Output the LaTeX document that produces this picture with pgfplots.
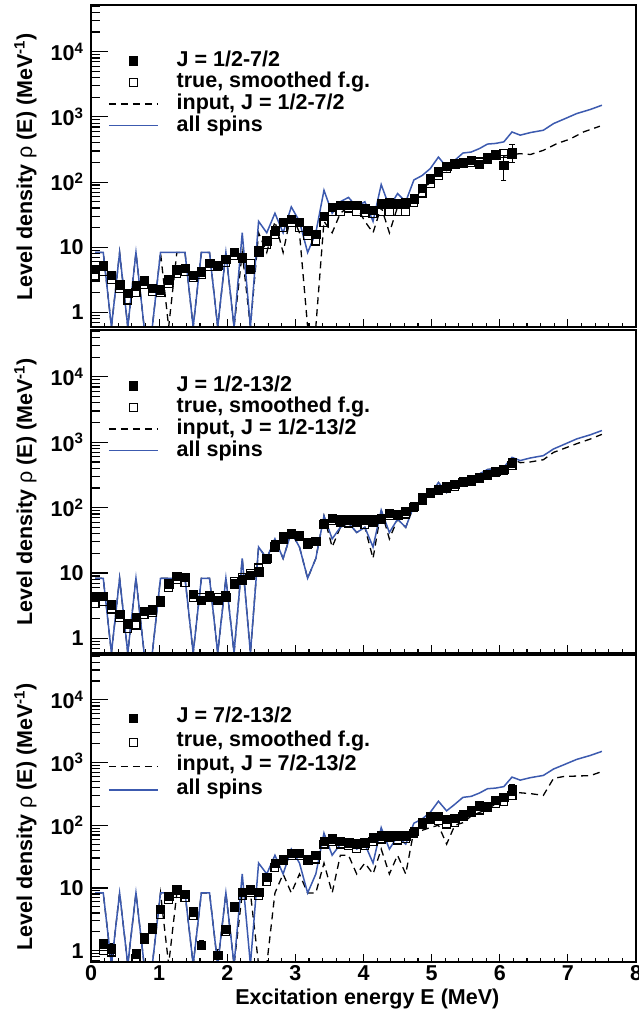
\documentclass[border=0pt]{standalone}
\usepackage{fontspec}
\setmainfont{Liberation Sans}
\usepackage{pgfplots}
\usepackage{pgfplotstable}
\pgfplotsset{compat=1.18}
\definecolor{rootblue}{RGB}{60,90,175}
\newcommand\lab{\fontsize{21.5bp}{25bp}\selectfont\bfseries}

\pgfplotstableread{
E b
0.06 8.33
0.18 8.33
0.30 0.6
0.42 8.33
0.54 0.6
0.66 8.33
0.78 0.6
0.90 0.6
1.02 8.33
1.14 8.33
1.26 8.33
1.38 8.33
1.50 0.6
1.62 8.33
1.74 8.33
1.86 0.6
1.98 8.33
2.10 0.6
2.22 16.7
2.34 0.6
2.46 25
2.58 16.7
2.70 33.3
2.82 16.7
2.94 41.7
3.06 25
3.18 8.33
3.30 16.7
3.42 75
3.54 33.3
3.66 50
3.78 58.3
3.90 41.7
4.02 50
4.14 25
4.26 91.7
4.38 41.7
4.50 66.7
4.62 50
4.74 108
4.86 126
4.98 161
5.10 242
5.22 170
5.34 216
5.46 279
5.58 289
5.70 326
5.82 383
5.94 392
6.06 414
6.18 587
6.30 525
6.45 575
6.64 624
6.79 790
6.94 922
7.13 1125
7.33 1300
7.50 1510
}\blue

\pgfplotstableread{
E f ef o d
0.06 4.65 0.5 3.6 8.33
0.18 5.2 0.5 4.2 8.33
0.30 3.76 0.4 3.2 0.6
0.42 2.67 0.3 2.3 8.33
0.54 1.99 0.2 1.55 0.6
0.66 2.58 0.3 2.0 8.33
0.78 3.08 0.3 2.7 0.6
0.90 2.35 0.2 2.1 0.6
1.02 2.24 0.2 2.0 8.33
1.14 3.19 0.3 2.8 0.6
1.26 4.54 0.4 4.0 8.33
1.38 4.82 0.4 4.2 8.33
1.50 3.76 0.4 3.4 0.6
1.62 4.23 0.4 3.8 8.33
1.74 5.74 0.5 5.0 8.33
1.86 5.35 0.5 5.0 0.6
1.98 6.62 0.6 5.9 8.33
2.10 8.39 0.8 7.5 0.6
2.22 6.78 0.6 7.0 8.33
2.34 4.65 0.5 5.6 0.6
2.46 8.6 0.8 8.8 16.7
2.58 12.7 1.2 11 8.33
2.70 18.1 1.6 15.5 25
2.82 24.5 2 20 8.33
2.94 27 2.5 24 33.3
3.06 24.5 2.5 20 16.7
3.18 18 2 15 0.6
3.30 16 2 12.5 0.6
3.42 30 3 24 25
3.54 41 4 35 16.7
3.66 44 4 35 33.3
3.78 44 4 40 41.7
3.90 44 4 35 41.7
4.02 39 4 34 25
4.14 37 4 33 16.7
4.26 47 5 35 41.7
4.38 49 5 35 16.7
4.50 47 5 35 41.7
4.62 49 6 35 41.7
4.74 56 7 48 58.3
4.86 80 8 68 75
4.98 112 12 95 100
5.10 145 15 125 133
5.22 174 18 160 150
5.34 192 20 185 175
5.46 203 22 195 185
5.58 215 25 200 200
5.70 187 25 205 210
5.82 230 30 235 220
5.94 258 35 265 240
6.06 180 75 275 250
6.18 290 90 270 265
6.30 nan nan nan 273
6.45 nan nan nan 265
6.64 nan nan nan 307
6.84 nan nan nan 390
7.03 nan nan nan 456
7.23 nan nan nan 588
7.47 nan nan nan 720
}\pA

\pgfplotstableread{
E f ef o d
0.06 4.3 0.5 3.4 8.33
0.18 4.4 0.5 3.7 8.33
0.30 3.3 0.4 2.8 0.6
0.42 2.35 0.3 2.1 8.33
0.54 1.68 0.2 1.4 0.6
0.66 2.13 0.2 1.6 8.33
0.78 2.63 0.3 2.3 0.6
0.90 2.76 0.3 2.5 0.6
1.02 3.85 0.4 3.6 8.33
1.14 6.9 0.6 6.0 8.33
1.26 9.0 0.8 8.0 8.33
1.38 8.6 0.8 7.2 8.33
1.50 4.75 0.5 4.2 0.6
1.62 3.85 0.4 4.2 8.33
1.74 4.3 0.4 4.5 8.33
1.86 3.85 0.4 4.2 0.6
1.98 4.3 0.4 4.5 8.33
2.10 6.9 0.6 7.5 0.6
2.22 7.9 0.7 8.5 16.7
2.34 9.3 0.8 10 0.6
2.46 10.5 1 12 25
2.58 16.8 1.5 16 16.7
2.70 27 2.5 25 33.3
2.82 36 3 33 16.7
2.94 40 4 40 41.7
3.06 38 4 36 25
3.18 29 3 27 8.33
3.30 30.5 3 30 16.7
3.42 58 5 55 75
3.54 69 6 63 25
3.66 65 6 60 50
3.78 65 6 58 58.3
3.90 65 6 60 41.7
4.02 65 6 55 50
4.14 65 6 60 16.7
4.26 68 7 65 91.7
4.38 83 8 75 33.3
4.50 78 8 75 66.7
4.62 88 9 80 50
4.74 105 10 100 108
4.86 141 14 130 126
4.98 173 17 165 161
5.10 190 19 185 242
5.22 215 22 200 170
5.34 226 23 210 216
5.46 254 26 240 279
5.58 270 28 255 289
5.70 286 30 275 326
5.82 322 35 310 383
5.94 363 40 340 392
6.06 385 60 370 414
6.18 487 80 440 560
6.30 nan nan nan 487
6.45 nan nan nan 500
6.64 nan nan nan 540
6.79 nan nan nan 700
6.94 nan nan nan 800
7.13 nan nan nan 950
7.33 nan nan nan 1120
7.50 nan nan nan 1320
}\pB

\pgfplotstableread{
E f ef o d
0.06 nan nan nan 8.33
0.18 1.29 0.2 1.0 8.33
0.30 1.08 0.2 0.95 0.6
0.42 nan nan nan 8.33
0.54 nan nan nan 0.6
0.66 0.9 0.15 0.75 8.33
0.78 1.6 0.2 1.5 0.6
0.90 2.38 0.3 2.2 0.6
1.02 4.6 0.4 3.8 8.33
1.14 7.4 0.6 6.5 0.6
1.26 9.4 0.8 8.2 8.33
1.38 8.0 0.7 7.0 8.33
1.50 4.2 0.4 3.6 0.6
1.62 1.23 0.2 nan 8.33
1.74 nan nan nan 8.33
1.86 0.84 0.2 0.65 0.6
1.98 2.2 0.3 2.0 8.33
2.10 4.9 0.5 5.0 0.6
2.22 8.5 0.8 7.6 8.33
2.34 9.4 0.8 8.5 8.33
2.46 8.5 0.8 7.5 0.6
2.58 14.8 1.4 12.5 0.6
2.70 25 2.4 21 8.33
2.82 29 2.8 27 16.7
2.94 36 3.5 33 8.33
3.06 36 3.5 33 16.7
3.18 28 3 28 8.33
3.30 33 3 29 8.33
3.42 56 5 50 25
3.54 61 6 55 8.33
3.66 56 6 50 33.3
3.78 53 5 48 33.3
3.90 51 5 42 16.7
4.02 53 5 48 25
4.14 63 6 55 16.7
4.26 68 7 60 41.7
4.38 68 7 65 16.7
4.50 68 7 58 33.3
4.62 68 7 62 16.7
4.74 81 8 75 83
4.86 113 11 105 83
4.98 138 14 125 92
5.10 140 14 120 100
5.22 126 13 105 50
5.34 130 14 110 100
5.46 150 16 140 110
5.58 171 18 160 140
5.70 205 22 175 160
5.82 193 22 200 180
5.94 250 30 220 220
6.06 278 40 240 250
6.18 370 70 300 330
6.30 nan nan nan 330
6.45 nan nan nan 320
6.64 nan nan nan 300
6.79 nan nan nan 560
6.94 nan nan nan 600
7.13 nan nan nan 610
7.33 nan nan nan 620
7.50 nan nan nan 720
}\pC

\pgfplotsset{
  fpts/.style={only marks, mark=square*, mark size=4.2bp, mark options={fill=black,draw=black,solid},
    error bars/.cd, y dir=both, y explicit, error bar style={line width=1bp, black},
    error mark options={rotate=90, mark size=2.6bp, line width=1bp, black}},
  opts/.style={only marks, mark=square, mark size=3.9bp, mark options={draw=black, line width=1.3bp, solid}},
  dsh/.style={black, line width=1.3bp, dash pattern=on 7bp off 5bp, no marks},
  blu/.style={rootblue, line width=1.5bp, no marks},
}

\begin{document}
\begin{tikzpicture}
\pgfplotsset{
  every axis/.append style={
    scale only axis, width=545bp,
    xmin=0, xmax=8, ymin=0.6, ymax=5.2e4,
    axis line style={line width=2bp},
    tick align=inside, xtick pos=lower, ytick pos=left,
    tick style={line width=1.2bp, black},
    tick label style={font=\lab},
  },
  xax/.style={
    xtick={0,1,2,3,4,5,6,7,8}, minor x tick num=4,
    ytick=\empty, minor ytick={},
    major tick length=8bp, minor tick length=4.5bp,
    legend style={draw=none, fill=none, at={(rel axis cs:0,1)}, anchor=north west,
      inner sep=0pt, column sep=18bp, xshift=17bp, yshift=-44.6bp,
      nodes={inner xsep=0pt, inner ysep=0.35bp, text height=16bp, text depth=5bp, font=\lab}},
    legend cell align=left,
    legend image code/.code={\draw[mark repeat=2,mark phase=2,##1] plot coordinates {(0bp,0bp) (24.5bp,0bp) (49bp,0bp)};},
  },
  yax/.style={
    xtick=\empty, minor xtick={},
    ytick={1,10,100,1000,10000},
    yticklabels={1,10,10\textsuperscript{2},10\textsuperscript{3},10\textsuperscript{4}},
    minor ytick={0.6,0.7,0.8,0.9,2,3,4,5,6,7,8,9,20,30,40,50,60,70,80,90,200,300,400,500,600,700,800,900,2000,3000,4000,5000,6000,7000,8000,9000,20000,30000,40000,50000},
    major tick length=17bp, minor tick length=9bp,
    yticklabel style={xshift=-4bp},
  },
}
% ---------- panel 1
\begin{axis}[ymode=log, xax, name=p1, at={(91bp,688bp)}, anchor=south west, height=322bp, xticklabels={}]
\addplot[fpts] table[x=E, y=f, y error=ef] {\pA};
\addlegendentry{J = 1/2-7/2}
\addplot[opts] table[x=E, y=o] {\pA};
\addlegendentry{true, smoothed f.g.}
\addplot[dsh] table[x=E, y=d] {\pA};
\addlegendentry{input, J = 1/2-7/2}
\addplot[blu] table[x=E, y=b] {\blue};
\addlegendentry{all spins}
\end{axis}
\begin{axis}[ymode=log, yax, at={(91bp,688bp)}, anchor=south west, height=322bp]
\end{axis}
\path (p1.north west) ++(-59bp,-28bp) node[rotate=90, anchor=base east, font=\lab, inner sep=0pt] {Level density {\mdseries ρ} (E) (MeV\textsuperscript{-1})};

% ---------- panel 2
\begin{axis}[ymode=log, xax, name=p2, at={(91bp,362bp)}, anchor=south west, height=323bp, xticklabels={}]
\addplot[fpts] table[x=E, y=f, y error=ef] {\pB};
\addlegendentry{J = 1/2-13/2}
\addplot[opts] table[x=E, y=o] {\pB};
\addlegendentry{true, smoothed f.g.}
\addplot[dsh] table[x=E, y=d] {\pB};
\addlegendentry{input, J = 1/2-13/2}
\addplot[blu] table[x=E, y=b] {\blue};
\addlegendentry{all spins}
\end{axis}
\begin{axis}[ymode=log, yax, at={(91bp,362bp)}, anchor=south west, height=323bp]
\end{axis}
\path (p2.north west) ++(-59bp,-28bp) node[rotate=90, anchor=base east, font=\lab, inner sep=0pt] {Level density {\mdseries ρ} (E) (MeV\textsuperscript{-1})};

% ---------- panel 3
\begin{axis}[ymode=log, xax, name=p3, at={(91bp,53bp)}, anchor=south west, height=307bp, ymin=0.66,
  xticklabels={0,1,2,3,4,5,6,7,8},
  xlabel={Excitation energy E (MeV)},
  xlabel style={at={(axis description cs:0.507,0)}, anchor=base, yshift=-42bp, font=\lab},
  legend style={yshift=-6.75bp, nodes={text depth=7.2bp}}]
\addplot[fpts] table[x=E, y=f, y error=ef] {\pC};
\addlegendentry{J = 7/2-13/2}
\addplot[opts] table[x=E, y=o] {\pC};
\addlegendentry{true, smoothed f.g.}
\addplot[dsh] table[x=E, y=d] {\pC};
\addlegendentry{input, J = 7/2-13/2}
\addplot[blu] table[x=E, y=b] {\blue};
\addlegendentry{all spins}
\end{axis}
\begin{axis}[ymode=log, yax, at={(91bp,53bp)}, anchor=south west, height=307bp, ymin=0.66]
\end{axis}
\path (p3.north west) ++(-59bp,-28bp) node[rotate=90, anchor=base east, font=\lab, inner sep=0pt] {Level density {\mdseries ρ} (E) (MeV\textsuperscript{-1})};

\pgfresetboundingbox
\path[use as bounding box] (0,0) rectangle (639bp,1015bp);
\end{tikzpicture}
\end{document}
